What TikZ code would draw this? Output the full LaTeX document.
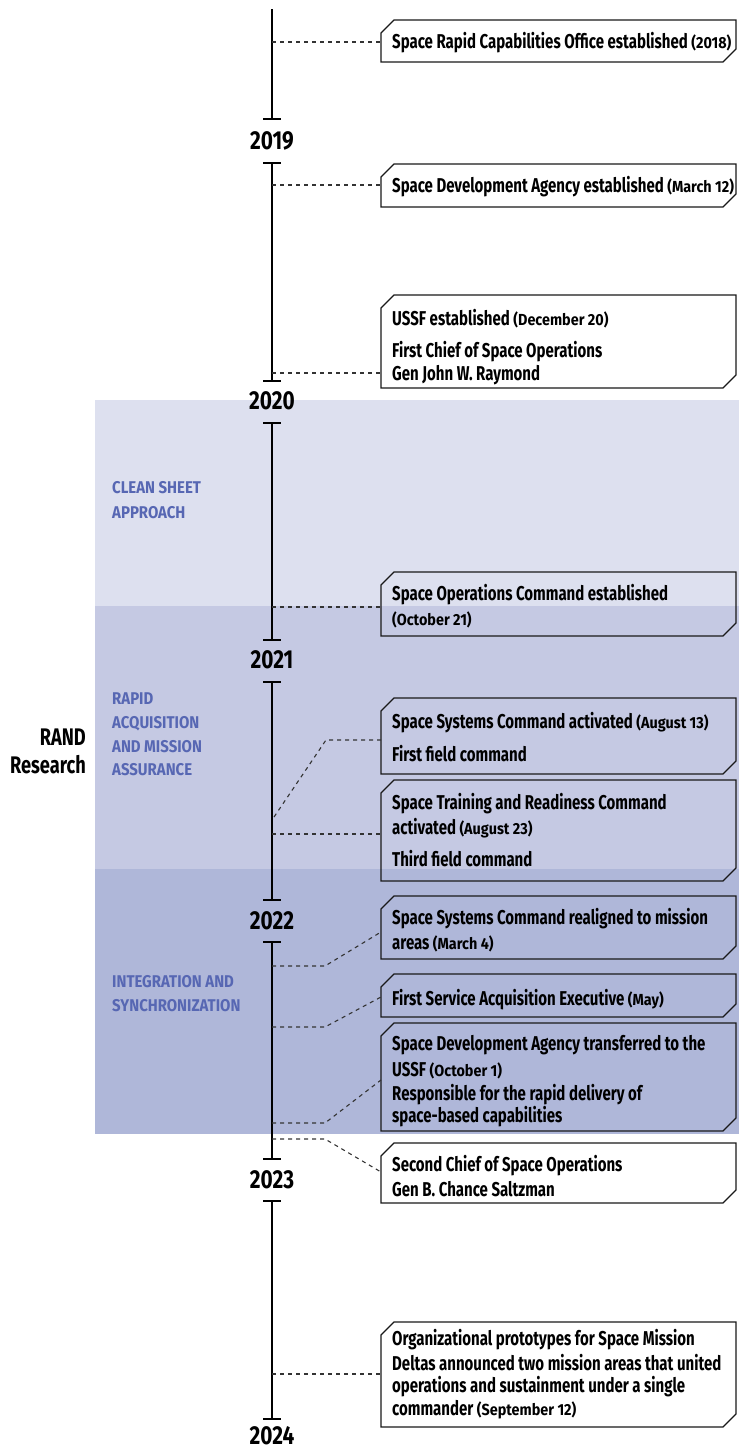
\documentclass[tikz,border=0pt]{standalone}
\usepackage{fontspec}
\setmainfont{Fira Sans}[FakeStretch=0.75]
\newfontfamily\datefont{Fira Sans}[FakeStretch=0.9]
\newfontfamily\yearfont{Fira Sans}[FakeStretch=0.8]
\newfontfamily\lblfont{Fira Sans}[FakeStretch=0.88]
\newfontfamily\randfont{Fira Sans}[FakeStretch=0.76]
\definecolor{bandA}{HTML}{DDE0EF}
\definecolor{bandB}{HTML}{C5C9E3}
\definecolor{bandC}{HTML}{AFB7D9}
\definecolor{labelblue}{HTML}{5767B3}
\tikzset{
 tl/.style={line width=2pt, black},
 tick/.style={line width=2pt, black},
 conn/.style={line width=1.1pt, black!80, dash pattern=on 4pt off 4pt},
 boxline/.style={line width=1.3pt, black!90, line join=miter},
 boxarea/.style={draw=none, inner sep=0pt, outer sep=0pt, minimum width=355pt, anchor=north west},
 evt/.style={anchor=base west, inner sep=0pt, font=\bfseries\fontsize{20}{22}\selectfont},
 yr/.style={inner sep=0pt, font=\yearfont\bfseries\fontsize{26}{30}\selectfont},
 lbl/.style={anchor=base west, inner sep=0pt, text=labelblue, font=\lblfont\bfseries\fontsize{17}{20}\selectfont},
 rand/.style={anchor=base east, inner sep=0pt, font=\randfont\bfseries\fontsize{24}{28}\selectfont},
}
\newcommand\dt[1]{{\datefont\bfseries\fontsize{16}{18}\selectfont #1}}
\newcommand\evbox[3]{%
 \node[boxarea, minimum height=#3pt] (#1) at (381,#2) {};
 \draw[boxline] ([yshift=-13pt]#1.north west) -- ([xshift=13pt]#1.north west) -- (#1.north east)
   -- ([yshift=13pt]#1.south east) -- ([xshift=-13pt]#1.south east) -- (#1.south west) -- cycle;}
\begin{document}
\begin{tikzpicture}[x=1pt,y=-1pt]
\useasboundingbox (0,0) rectangle (739,1448);
% bands
\fill[bandA] (95,400) rectangle (739,606);
\fill[bandB] (95,606) rectangle (739,869);
\fill[bandC] (95,869) rectangle (739,1134);
% band labels
\node[lbl] (la1) at (112,493.5) {CLEAN SHEET};
\node[lbl] (la2) at (112,518) {APPROACH};
\node[lbl] (lb1) at (112,704) {RAPID};
\node[lbl] (lb2) at (112,728) {ACQUISITION};
\node[lbl] (lb3) at (112,752) {AND MISSION};
\node[lbl] (lb4) at (112,775.5) {ASSURANCE};
\node[lbl] (lc1) at (112,987) {INTEGRATION AND};
\node[lbl] (lc2) at (112,1011) {SYNCHRONIZATION};
\node[rand] (r1) at (86,745.5) {RAND};
\node[rand] (r2) at (86,773.5) {Research};
% timeline
\foreach \a/\b [count=\i] in {9/119, 163/381, 423/640, 682/900, 942/1159, 1201/1419} {
  \coordinate (ta\i) at (272,\a);
  \coordinate (tb\i) at (272,\b);
  \draw[tl] (ta\i) -- (tb\i);
  \draw[tick] ([xshift=-9pt]tb\i) -- ([xshift=9pt]tb\i);
  \ifnum\i>1 \draw[tick] ([xshift=-9pt]ta\i) -- ([xshift=9pt]ta\i); \fi
}
\node[yr] (y2019) at (272,141) {2019};
\node[yr] (y2020) at (272,401) {2020};
\node[yr] (y2021) at (272,660) {2021};
\node[yr] (y2022) at (272,921) {2022};
\node[yr] (y2023) at (272,1180) {2023};
\node[yr] (y2024) at (272,1436) {2024};
% boxes
\evbox{b1}{20}{42}
\evbox{b2}{164}{43}
\evbox{b3}{295}{93}
\evbox{b4}{572}{64}
\evbox{b5}{698}{76}
\evbox{b6}{780}{101}
\evbox{b7}{896}{63}
\evbox{b8}{974}{43}
\evbox{b9}{1023}{108}
\evbox{b10}{1143}{60}
\evbox{b11}{1322}{105}
% texts
\node[evt] (b1a) at (392,48.5) {Space Rapid Capabilities Office established \dt{(2018)}};
\node[evt] (b2a) at (392,192) {Space Development Agency established \dt{(March 12)}};
\node[evt] (b3a) at (392,325) {USSF established \dt{(December 20)}};
\node[evt] (b3b) at (392,357) {First Chief of Space Operations};
\node[evt] (b3c) at (392,380) {Gen John W. Raymond};
\node[evt] (b4a) at (392,600.5) {Space Operations Command established};
\node[evt] (b4b) at (392,625) {\dt{(October 21)}};
\node[evt] (b5a) at (392,728) {Space Systems Command activated \dt{(August 13)}};
\node[evt] (b5b) at (392,761) {First field command};
\node[evt] (b6a) at (392,809) {Space Training and Readiness Command};
\node[evt] (b6b) at (392,834) {activated \dt{(August 23)}};
\node[evt] (b6c) at (392,866) {Third field command};
\node[evt] (b7a) at (392,924) {Space Systems Command realigned to mission};
\node[evt] (b7b) at (392,949) {areas \dt{(March 4)}};
\node[evt] (b8a) at (392,1005) {First Service Acquisition Executive \dt{(May)}};
\node[evt] (b9a) at (392,1050) {Space Development Agency transferred to the};
\node[evt] (b9b) at (392,1076) {USSF \dt{(October 1)}};
\node[evt] (b9c) at (392,1100) {Responsible for the rapid delivery of};
\node[evt] (b9d) at (392,1122) {space-based capabilities};
\node[evt] (b10a) at (392,1171) {Second Chief of Space Operations};
\node[evt] (b10b) at (392,1196) {Gen B. Chance Saltzman};
\node[evt] (b11a) at (392,1345) {Organizational prototypes for Space Mission};
\node[evt] (b11b) at (392,1370) {Deltas announced two mission areas that united};
\node[evt] (b11c) at (392,1392) {operations and sustainment under a single};
\node[evt] (b11d) at (392,1415) {commander \dt{(September 12)}};
% connectors
\coordinate (c1) at (272,42);
\coordinate (c2) at (272,185);
\coordinate (c3) at (272,373);
\coordinate (c4) at (272,607);
\coordinate (c5) at (274,817);
\coordinate (c6) at (272,834);
\coordinate (c7) at (272,966);
\coordinate (c8) at (272,1027);
\coordinate (c9) at (272,1123);
\coordinate (c10) at (272,1139);
\coordinate (c11) at (272,1374);
\draw[conn] (c1) -- (c1 -| b1.west);
\draw[conn] (c2) -- (c2 -| b2.west);
\draw[conn] (c3) -- (c3 -| b3.west);
\draw[conn] (c4) -- (c4 -| b4.west);
\draw[conn] (c5) -- (326,740) -- (b5.west |- 0,740);
\draw[conn] (c6) -- (c6 -| b6.west);
\draw[conn] (c7) -- ++(53,0) -- (b7.west |- 0,932);
\draw[conn] (c8) -- ++(53,0) -- (b8.west |- 0,997);
\draw[conn] (c9) -- ++(53,0) -- (b9.west |- 0,1080);
\draw[conn] (c10) -- ++(53,0) -- (b10.west |- 0,1172);
\draw[conn] (c11) -- (c11 -| b11.west);
\end{tikzpicture}
\end{document}
